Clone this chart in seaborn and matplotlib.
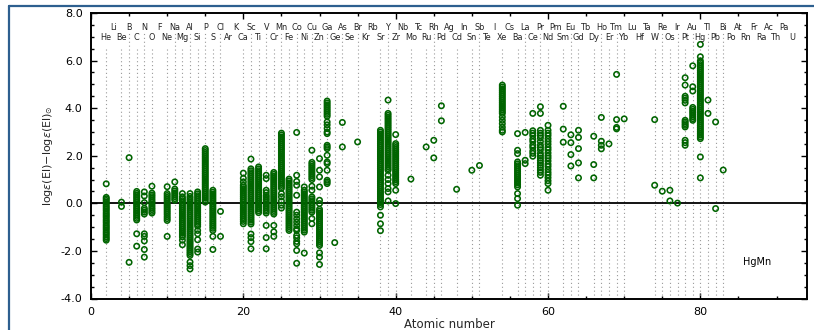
import matplotlib
matplotlib.use("Agg")
import matplotlib.pyplot as plt
from matplotlib.lines import Line2D
from matplotlib.ticker import MultipleLocator, FormatStrFormatter
import pandas as pd
import seaborn as sns

# Element symbols from He (Z=2) to U (Z=92)
symbols = ["He", "Li", "Be", "B", "C", "N", "O", "F", "Ne", "Na", "Mg", "Al", "Si", "P",
           "S", "Cl", "Ar", "K", "Ca", "Sc", "Ti", "V", "Cr", "Mn", "Fe", "Co", "Ni", "Cu",
           "Zn", "Ga", "Ge", "As", "Se", "Br", "Kr", "Rb", "Sr", "Y", "Zr", "Nb", "Mo", "Tc",
           "Ru", "Rh", "Pd", "Ag", "Cd", "In", "Sn", "Sb", "Te", "I", "Xe", "Cs", "Ba", "La",
           "Ce", "Pr", "Nd", "Pm", "Sm", "Eu", "Gd", "Tb", "Dy", "Ho", "Er", "Tm", "Yb", "Lu",
           "Hf", "Ta", "W", "Re", "Os", "Ir", "Pt", "Au", "Hg", "Tl", "Pb", "Bi", "Po", "At",
           "Rn", "Fr", "Ra", "Ac", "Th", "Pa", "U"]

# Abundance differences log eps(El) - log eps(El)_sun for the HgMn sample
he = [0.82, 0.25, 0.19, 0.12, 0.05, -0.02, -0.1, -0.17, -0.24, -0.31, -0.39, -0.46, -0.53,
      -0.6, -0.68, -0.75, -0.82, -0.9, -0.97, -1.04, -1.11, -1.19, -1.26, -1.33, -1.41,
      -1.48, -1.55]
be = [0.05, -0.13]
b = [1.92, -2.48]
c = [0.5, 0.42, 0.35, 0.27, 0.2, 0.12, 0.05, -0.03, -0.1, -0.18, -0.25, -0.33, -0.4,
     -0.48, -0.55, -0.63, -0.7, -1.28, -1.8]
n = [0.48, 0.31, 0.03, -0.21, -0.29, -0.37, -0.45, -1.28, -1.39, -1.58, -1.94, -2.26]
o = [0.72, 0.43, 0.35, 0.28, 0.2, 0.12, 0.05, -0.03, -0.11, -0.19, -0.26, -0.34, -0.41]
ne = [0.7, 0.41, 0.33, 0.25, 0.17, 0.09, 0.01, -0.07, -0.15, -0.23, -0.31, -0.39, -0.47,
      -0.56, -0.64, -0.72, -1.39]
na = [0.9, 0.6, 0.52, 0.44, 0.36, 0.28, 0.2, 0.13]
mg = [0.41, 0.27, 0.19, 0.11, 0.03, -0.05, -0.13, -0.21, -0.29, -0.37, -0.45, -0.53, -0.61,
      -0.69, -0.77, -0.85, -0.93, -1.01, -1.09, -1.17, -1.25, -1.33, -1.41, -1.55, -1.74]
al = [0.41, 0.29, 0.21, 0.13, 0.05, -0.03, -0.11, -0.19, -0.27, -0.35, -0.43, -0.51, -0.59,
      -0.67, -0.75, -0.83, -0.91, -0.99, -1.07, -1.15, -1.23, -1.31, -1.39, -1.47, -1.55,
      -1.63, -1.71, -1.79, -1.87, -1.95, -2.03, -2.11, -2.19, -2.47, -2.62, -2.76]
si = [0.48, 0.4, 0.32, 0.24, 0.16, 0.08, 0.0, -0.08, -0.16, -0.24, -0.32, -0.4, -0.48,
      -0.56, -0.64, -0.72, -0.8, -0.88, -0.96, -1.14, -1.28, -1.53, -1.92, -2.05]
p = [2.3, 2.22, 2.14, 2.06, 1.98, 1.9, 1.82, 1.74, 1.66, 1.58, 1.5, 1.42, 1.34, 1.26, 1.18,
     1.1, 1.02, 0.94, 0.86, 0.78, 0.7, 0.62, 0.54, 0.46, 0.38, 0.3, 0.22, 0.14, 0.05]
s = [0.55, 0.47, 0.39, 0.31, 0.23, 0.15, 0.07, -0.01, -0.09, -0.17, -0.25, -0.33, -0.41,
     -0.49, -0.57, -0.65, -0.73, -0.81, -0.89, -0.97, -1.05, -1.14, -1.39, -1.94]
cl = [-0.34, -1.39]
ca = [1.27, 1.05, 0.9, 0.76, 0.68, 0.6, 0.52, 0.44, 0.36, 0.28, 0.2, 0.12, 0.04, -0.04,
      -0.12, -0.2, -0.28, -0.36, -0.44, -0.52, -0.6, -0.68, -0.76, -0.86]
sc = [1.86, 1.45, 1.37, 1.29, 1.21, 1.13, 1.05, 0.97, 0.89, 0.81, 0.73, 0.65, 0.57, 0.49,
      0.41, 0.33, 0.25, 0.17, 0.09, 0.01, -0.07, -0.15, -0.23, -0.31, -0.39, -0.47, -0.55,
      -0.63, -0.71, -0.79, -0.87, -1.29, -1.44, -1.61, -1.91]
ti = [1.53, 1.45, 1.37, 1.29, 1.21, 1.13, 1.05, 0.97, 0.89, 0.81, 0.73, 0.65, 0.57, 0.49,
      0.41, 0.33, 0.25, 0.17, 0.09, 0.01, -0.07, -0.15, -0.23, -0.31, -0.39]
v = [1.18, 1.04, 0.55, 0.45, 0.34, 0.27, 0.19, 0.12, 0.04, -0.03, -0.11, -0.18, -0.26,
     -0.33, -0.41, -0.93, -1.44, -1.91]
cr = [1.3, 1.22, 1.14, 1.06, 0.98, 0.9, 0.82, 0.74, 0.66, 0.58, 0.5, 0.42, 0.34, 0.26, 0.18,
      0.1, 0.02, -0.06, -0.14, -0.22, -0.3, -0.38, -0.45, -0.93, -1.2, -1.39]
mn = [2.95, 2.87, 2.79, 2.71, 2.63, 2.55, 2.47, 2.39, 2.31, 2.23, 2.15, 2.07, 1.99, 1.91,
      1.83, 1.75, 1.67, 1.59, 1.51, 1.43, 1.35, 1.27, 1.19, 1.11, 1.03, 0.95, 0.87, 0.79,
      0.71, 0.63, 0.41, 0.27, 0.1, -0.08, -0.2]
fe = [1.02, 0.94, 0.86, 0.78, 0.7, 0.62, 0.54, 0.46, 0.38, 0.3, 0.22, 0.14, 0.06, -0.02,
      -0.1, -0.18, -0.26, -0.34, -0.42, -0.5, -0.58, -0.66, -0.74, -0.82, -0.9, -0.98,
      -1.06, -1.14]
co = [2.98, 1.18, 0.92, 0.76, 0.34, -0.37, -0.5, -0.65, -0.79, -0.93, -1.07, -1.14, -1.35,
      -1.45, -1.6, -1.7, -1.98, -2.52]
ni = [0.69, 0.55, 0.47, 0.39, 0.31, 0.23, 0.15, 0.07, -0.01, -0.09, -0.17, -0.25, -0.33,
      -0.41, -0.49, -0.57, -0.65, -0.73, -0.81, -0.89, -0.97, -1.05, -1.13, -1.21, -2.09]
cu = [2.23, 1.72, 1.64, 1.56, 1.48, 1.4, 1.32, 1.24, 1.16, 1.08, 1.0, 0.72, 0.55, 0.27, 0.19,
      0.11, 0.03, -0.05, -0.13, -0.21, -0.29, -0.37, -0.64, -0.86]
zn = [1.88, 1.39, 1.11, 0.69, 0.13, -0.01, -0.25, -0.33, -0.41, -0.49, -0.57, -0.65, -0.73,
      -0.81, -0.89, -0.97, -1.05, -1.13, -1.21, -1.29, -1.37, -1.45, -1.53, -1.61, -1.69,
      -1.77, -2.08, -2.26, -2.57]
ga = [4.3, 4.22, 4.14, 4.06, 3.98, 3.9, 3.82, 3.74, 3.66, 3.42, 3.3, 3.15, 3.0, 2.93, 2.44,
      2.37, 2.3, 2.02, 1.74, 1.67, 1.39, 0.97, 0.9, 0.83]
ge = [-1.65]
as_ = [3.4, 2.37]
br = [2.58]
sr = [3.07, 2.99, 2.91, 2.83, 2.75, 2.67, 2.59, 2.51, 2.43, 2.35, 2.27, 2.19, 2.11, 2.03,
      1.95, 1.87, 1.79, 1.71, 1.63, 1.55, 1.47, 1.39, 1.31, 1.23, 1.15, 1.07, 0.99, 0.91,
      0.83, 0.75, 0.67, 0.59, 0.51, 0.43, 0.35, 0.27, 0.19, 0.11, 0.03, -0.05, -0.15, -0.5,
      -0.86, -1.15]
y = [4.34, 3.78, 3.7, 3.62, 3.54, 3.46, 3.38, 3.3, 3.22, 3.14, 3.06, 2.98, 2.9, 2.82, 2.74,
     2.66, 2.58, 2.5, 2.42, 2.34, 2.26, 2.18, 2.1, 2.02, 1.94, 1.86, 1.78, 1.7, 1.62, 1.54,
     1.46, 1.39, 1.18, 1.0, 0.83, 0.62, 0.48, 0.1]
zr = [2.89, 2.51, 2.43, 2.35, 2.27, 2.19, 2.11, 2.03, 1.95, 1.87, 1.79, 1.71, 1.63, 1.55,
      1.47, 1.39, 1.31, 1.23, 1.15, 1.07, 0.99, 0.91, 0.83, 0.55, -0.01]
mo = [1.02]
ru = [2.37]
rh = [2.65, 1.91]
pd_ = [4.1, 3.47]
cd = [0.59]
sn = [1.39]
sb = [1.59]
xe = [4.97, 4.89, 4.81, 4.73, 4.65, 4.57, 4.49, 4.41, 4.33, 4.25, 4.17, 4.09, 4.01, 3.93,
      3.85, 3.78, 3.63, 3.49, 3.35, 3.2, 3.07, 3.0]
ba = [2.93, 2.23, 2.09, 1.74, 1.66, 1.58, 1.5, 1.42, 1.34, 1.26, 1.18, 1.1, 1.02, 0.94, 0.86,
      0.78, 0.69, 0.41, 0.2, -0.08]
la = [2.98, 1.81, 1.67]
ce = [3.78, 3.05, 2.95, 2.85, 2.7, 2.6, 2.45, 2.35, 2.2, 2.1, 1.98]
pr = [4.06, 3.78, 3.07, 2.95, 2.85, 2.75, 2.6, 2.45, 2.35, 2.25, 2.1, 2.0, 1.9, 1.8, 1.7,
      1.6, 1.5, 1.4, 1.3, 1.18]
nd = [3.28, 3.07, 2.95, 2.85, 2.72, 2.6, 2.48, 2.35, 2.25, 2.12, 2.0, 1.9, 1.78, 1.65, 1.55,
      1.42, 1.3, 1.2, 1.08, 0.95, 0.83, 0.55]
sm = [4.08, 3.12, 2.57]
eu = [2.88, 2.55, 2.05, 1.57]
gd = [3.07, 2.77, 2.3, 1.7, 1.07]
dy = [2.82, 1.63, 1.07]
ho = [3.61, 2.61, 2.44, 2.29]
er = [2.5]
tm = [5.42, 3.52, 3.19, 3.13]
yb = [3.55]
w = [3.52, 0.76]
re = [0.51]
os_ = [0.55, 0.1]
ir = [0.01]
pt = [5.28, 4.97, 4.5, 4.42, 4.33, 4.22, 3.49, 3.42, 3.35, 3.28, 3.21, 2.65, 2.55, 2.44]
au = [5.78, 4.9, 4.72, 4.03, 3.95, 3.87, 3.8, 3.72, 3.64, 3.56, 3.49]
hg = [6.68, 6.16, 5.99, 5.91, 5.83, 5.75, 5.67, 5.59, 5.51, 5.43, 5.35, 5.27, 5.19, 5.11,
      5.03, 4.95, 4.87, 4.79, 4.71, 4.63, 4.55, 4.47, 4.39, 4.31, 4.23, 4.15, 4.07, 3.99,
      3.91, 3.83, 3.75, 3.67, 3.59, 3.51, 3.43, 3.35, 3.27, 3.19, 3.11, 3.03, 2.95, 2.87,
      2.79, 2.72, 1.95, 1.07]
tl = [4.34, 3.78]
pb = [3.42, -0.22]
bi = [1.4]

measured = {
    "He": he, "Be": be, "B": b, "C": c, "N": n, "O": o, "Ne": ne, "Na": na, "Mg": mg,
    "Al": al, "Si": si, "P": p, "S": s, "Cl": cl, "Ca": ca, "Sc": sc, "Ti": ti, "V": v,
    "Cr": cr, "Mn": mn, "Fe": fe, "Co": co, "Ni": ni, "Cu": cu, "Zn": zn, "Ga": ga,
    "Ge": ge, "As": as_, "Br": br, "Sr": sr, "Y": y, "Zr": zr, "Mo": mo, "Ru": ru,
    "Rh": rh, "Pd": pd_, "Cd": cd, "Sn": sn, "Sb": sb, "Xe": xe, "Ba": ba, "La": la,
    "Ce": ce, "Pr": pr, "Nd": nd, "Sm": sm, "Eu": eu, "Gd": gd, "Dy": dy, "Ho": ho,
    "Er": er, "Tm": tm, "Yb": yb, "W": w, "Re": re, "Os": os_, "Ir": ir, "Pt": pt,
    "Au": au, "Hg": hg, "Tl": tl, "Pb": pb, "Bi": bi,
}

rows = [(symbols.index(el) + 2, val) for el, vals in measured.items() for val in vals]
df = pd.DataFrame(rows, columns=["Z", "dlog"])

sns.set_theme(style="ticks")
plt.rcParams["font.family"] = ["DejaVu Sans"]
plt.rcParams["mathtext.fontset"] = "dejavusans"
plt.rcParams["axes.unicode_minus"] = True

fig = plt.figure(figsize=(8.14, 3.30), dpi=100)
fig.patch.set_facecolor("white")
ax = fig.add_axes([91 / 814, 1 - 298.5 / 330, 716 / 814, 285.5 / 330])
ax.set_facecolor("white")

# dotted guide line for every measured element; odd Z reach the upper label row
for z in sorted(df["Z"].unique()):
    top = 7.15 if z % 2 else 6.58
    ax.vlines(z, -4, top, colors="#9a9a9a", linestyles=(0, (1, 2.5)), lw=0.8, zorder=1)

ax.axhline(0, color="black", lw=1.3, zorder=2)

sns.scatterplot(data=df, x="Z", y="dlog", ax=ax, marker="o", s=15,
                facecolor="none", edgecolor="#006400", linewidth=1.15,
                zorder=3, legend=False)

# element symbols in two staggered rows
for i, sym in enumerate(symbols):
    z = i + 2
    ypos = 7.38 if z % 2 else 6.99
    ax.text(z, ypos, sym, ha="center", va="center", fontsize=5.9, color="#222222",
            zorder=4)

ax.text(87.4, -2.47, "HgMn", ha="center", va="center", fontsize=7, color="black")

ax.set_xlim(0, 94)
ax.set_ylim(-4, 8)
ax.xaxis.set_major_locator(MultipleLocator(20))
ax.xaxis.set_minor_locator(MultipleLocator(5))
ax.yaxis.set_major_locator(MultipleLocator(2))
ax.yaxis.set_minor_locator(MultipleLocator(0.5))
ax.yaxis.set_major_formatter(FormatStrFormatter("%.1f"))
ax.tick_params(which="both", direction="in", top=True, right=True, colors="black",
               labelsize=8, width=1.0)
ax.tick_params(which="major", length=4.5, pad=6)
ax.tick_params(which="minor", length=2.3)
for sp in ax.spines.values():
    sp.set_linewidth(1.4)
    sp.set_color("black")

ax.set_xlabel("Atomic number", fontsize=8.5, labelpad=1)
ax.set_ylabel(r"log$\epsilon$(El)$-$log$\epsilon$(El)$_{\odot}$", fontsize=8, labelpad=4)

# panel frame around the figure
fig.add_artist(Line2D([8.5 / 814, 1], [1 - 5.5 / 330] * 2, transform=fig.transFigure,
                      color="#2d5f8f", lw=1.6))
fig.add_artist(Line2D([8.5 / 814] * 2, [0, 1 - 5.5 / 330], transform=fig.transFigure,
                      color="#2d5f8f", lw=1.6))

fig.savefig("out.png", dpi=100)
